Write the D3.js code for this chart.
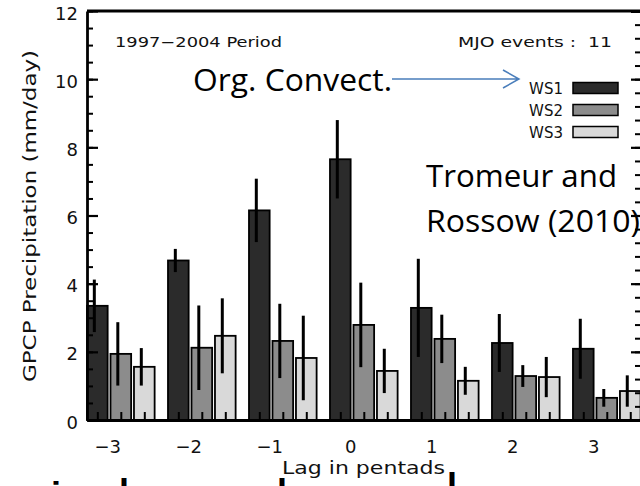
<!DOCTYPE html>
<html lang="en">

<head>
    <meta charset="UTF-8">
    <title>GPCP Precipitation by Weather State</title>
    <script src="https://cdn.jsdelivr.net/npm/d3@7"></script>
    <style>
        body {
            margin: 0;
            background-color: #fff;
        }

        svg {
            display: block;
        }

        .idl {
            font-family: "DejaVu Sans", sans-serif;
            fill: #111;
            white-space: pre;
        }

        .note {
            font-family: "Open Sans", sans-serif;
            fill: #000;
        }

        .cut {
            font-family: "Liberation Sans", sans-serif;
            font-weight: bold;
            font-size: 36px;
            fill: #000;
        }
    </style>
</head>

<body>
    <script>
        // lag in pentads and mean precipitation (mm/day) with error half-widths
        const lags = [-3, -2, -1, 0, 1, 2, 3];
        const ws1 = [3.35, 4.68, 6.15, 7.65, 3.29, 2.26, 2.09];
        const ws1Err = [0.77, 0.34, 0.93, 1.15, 1.44, 0.85, 0.88];
        const ws2 = [1.94, 2.12, 2.32, 2.79, 2.38, 1.29, 0.65];
        const ws2Err = [0.93, 1.24, 1.09, 1.24, 0.71, 0.32, 0.26];
        const ws3 = [1.56, 2.47, 1.82, 1.44, 1.15, 1.26, 0.85];
        const ws3Err = [0.55, 1.10, 1.24, 0.65, 0.41, 0.59, 0.46];
        const seriesNames = ["WS1", "WS2", "WS3"];
        const seriesColors = ["#2b2b2b", "#8c8c8c", "#d9d9d9"];
        const yMajorTicks = [0, 2, 4, 6, 8, 10, 12];

        const width = 640
        const height = 486

        let svg = d3.select("body")
            .append("svg")
            .attr("width", width)
            .attr("height", height);

        const xscale = d3.scaleLinear()
            .domain([-3.25, 3.59])
            .range([87, 641])

        const yscale = d3.scaleLinear()
            .domain([0, 12])
            .range([420, 11])

        const barOffset = -0.25, barStep = 0.29, barWidth = 0.255;

        const series = [
            { name: seriesNames[0], values: ws1, err: ws1Err, color: seriesColors[0] },
            { name: seriesNames[1], values: ws2, err: ws2Err, color: seriesColors[1] },
            { name: seriesNames[2], values: ws3, err: ws3Err, color: seriesColors[2] }
        ];

        let bars = [];
        series.forEach((s, k) => {
            lags.forEach((lag, i) => {
                bars.push({
                    x0: lag + barOffset + k * barStep,
                    value: s.values[i],
                    err: s.err[i],
                    color: s.color
                });
            });
        });

        // bars
        svg.append("g")
            .selectAll("rect")
            .data(bars)
            .enter()
            .append("rect")
            .attr("x", d => xscale(d.x0))
            .attr("y", d => yscale(d.value))
            .attr("width", d => xscale(d.x0 + barWidth) - xscale(d.x0))
            .attr("height", d => yscale(0) - yscale(d.value))
            .attr("fill", d => d.color)
            .attr("stroke", "#000")
            .attr("stroke-width", 1.8);

        // error bars (drawn slightly left of bar centre, like the original)
        svg.append("g")
            .selectAll("line")
            .data(bars)
            .enter()
            .append("line")
            .attr("x1", d => xscale(d.x0 + barWidth / 2) - 3)
            .attr("x2", d => xscale(d.x0 + barWidth / 2) - 3)
            .attr("y1", d => yscale(d.value + d.err))
            .attr("y2", d => yscale(d.value - d.err))
            .attr("stroke", "#000")
            .attr("stroke-width", 3);

        // small ticks at every bar centre along the bottom axis
        svg.append("g")
            .attr("transform", `translate(0,${yscale(0)})`)
            .call(d3.axisBottom(xscale)
                .tickValues(bars.map(d => d.x0 + barWidth / 2))
                .tickSize(-8)
                .tickFormat(""))
            .call(g => g.select(".domain").remove())
            .call(g => g.selectAll(".tick line").attr("stroke-width", 2));

        // bottom axis with lag labels
        svg.append("g")
            .attr("transform", `translate(0,${yscale(0)})`)
            .call(d3.axisBottom(xscale)
                .tickValues(lags)
                .tickSize(0)
                .tickPadding(20)
                .tickFormat(d3.format("d")))
            .call(g => g.select(".domain").attr("stroke-width", 2.8))
            .call(g => g.selectAll("text")
                .attr("class", "idl")
                .style("font-size", "18px"));

        // left axis: minor ticks, then major ticks with labels
        svg.append("g")
            .attr("transform", `translate(87,0)`)
            .call(d3.axisLeft(yscale)
                .tickValues(d3.range(0, 12.01, 0.5))
                .tickSize(-6)
                .tickFormat(""))
            .call(g => g.select(".domain").remove())
            .call(g => g.selectAll(".tick line").attr("stroke-width", 2));

        svg.append("g")
            .attr("transform", `translate(87,0)`)
            .call(d3.axisLeft(yscale)
                .tickValues(yMajorTicks)
                .tickSize(-11)
                .tickSizeOuter(0)
                .tickPadding(9)
                .tickFormat(d3.format("d")))
            .call(g => g.select(".domain").attr("stroke-width", 2.8))
            .call(g => g.selectAll(".tick line").attr("stroke-width", 2.2))
            .call(g => g.selectAll("text")
                .attr("class", "idl")
                .attr("dy", "0.45em")
                .style("font-size", "18px"));

        // right axis (ticks point inward), top frame
        svg.append("g")
            .attr("transform", `translate(641,0)`)
            .call(d3.axisLeft(yscale)
                .tickValues(d3.range(0, 12.01, 0.4))
                .tickSize(6)
                .tickFormat(""))
            .call(g => g.selectAll(".tick line").attr("stroke-width", 2));

        svg.append("g")
            .attr("transform", `translate(641,0)`)
            .call(d3.axisLeft(yscale)
                .tickValues(yMajorTicks)
                .tickSize(10)
                .tickFormat(""))
            .call(g => g.select(".domain").attr("stroke-width", 2.8))
            .call(g => g.selectAll(".tick line").attr("stroke-width", 2.2));

        svg.append("line")
            .attr("x1", xscale.range()[0]).attr("x2", xscale.range()[1])
            .attr("y1", yscale(12)).attr("y2", yscale(12))
            .attr("stroke", "#000").attr("stroke-width", 2.8);

        // axis titles
        svg.append("text")
            .attr("class", "idl")
            .attr("transform", "translate(36,216) rotate(-90)")
            .attr("text-anchor", "middle")
            .attr("textLength", 332)
            .attr("lengthAdjust", "spacingAndGlyphs")
            .style("font-size", "17px")
            .text("GPCP Precipitation (mm/day)");

        svg.append("text")
            .attr("class", "idl")
            .attr("x", 282).attr("y", 474)
            .attr("textLength", 163)
            .attr("lengthAdjust", "spacingAndGlyphs")
            .style("font-size", "17px")
            .text("Lag in pentads");

        // labels inside the plot
        svg.append("text")
            .attr("class", "idl")
            .attr("x", 115).attr("y", 47)
            .attr("textLength", 167)
            .attr("lengthAdjust", "spacingAndGlyphs")
            .style("font-size", "14px")
            .text("1997\u22122004 Period");

        svg.append("text")
            .attr("class", "idl")
            .attr("x", 458).attr("y", 47)
            .attr("textLength", 154)
            .attr("lengthAdjust", "spacingAndGlyphs")
            .style("font-size", "14px")
            .text("MJO events :  11");

        // legend
        seriesNames.forEach((name, i) => {
            const cy = 88 + i * 22;
            svg.append("rect")
                .attr("x", 573).attr("y", cy - 5.5)
                .attr("width", 45).attr("height", 11)
                .attr("fill", seriesColors[i])
                .attr("stroke", "#000").attr("stroke-width", 1.5);
            svg.append("text")
                .attr("class", "idl")
                .attr("x", 563).attr("y", cy + 6)
                .attr("text-anchor", "end")
                .style("font-size", "15px")
                .text(name);
        });

        // slide annotations
        svg.append("text")
            .attr("class", "note")
            .attr("x", 193).attr("y", 91)
            .attr("textLength", 199)
            .attr("lengthAdjust", "spacingAndGlyphs")
            .style("font-size", "31px")
            .text("Org. Convect.");

        svg.append("path")
            .attr("d", "M392,79 L519,79 M503,70 L519,79 L503,88")
            .attr("fill", "none")
            .attr("stroke", "#4a7ebb")
            .attr("stroke-width", 1.5);

        svg.append("text")
            .attr("class", "note")
            .attr("x", 426).attr("y", 187)
            .attr("textLength", 191)
            .attr("lengthAdjust", "spacingAndGlyphs")
            .style("font-size", "31px")
            .text("Tromeur and");

        svg.append("text")
            .attr("class", "note")
            .attr("x", 426).attr("y", 232)
            .attr("textLength", 214)
            .attr("lengthAdjust", "spacingAndGlyphs")
            .style("font-size", "31px")
            .text("Rossow (2010)");

        // tops of the next slide line, cut off by the bottom edge
        svg.append("g")
            .selectAll("text")
            .data([{ x: 51, y: 508, t: "i" }, { x: 119, y: 505, t: "l" }, { x: 277, y: 505, t: "l" }, { x: 447, y: 499, t: "l" }])
            .enter()
            .append("text")
            .attr("class", "cut")
            .attr("x", d => d.x)
            .attr("y", d => d.y)
            .text(d => d.t);
    </script>
</body>

</html>
